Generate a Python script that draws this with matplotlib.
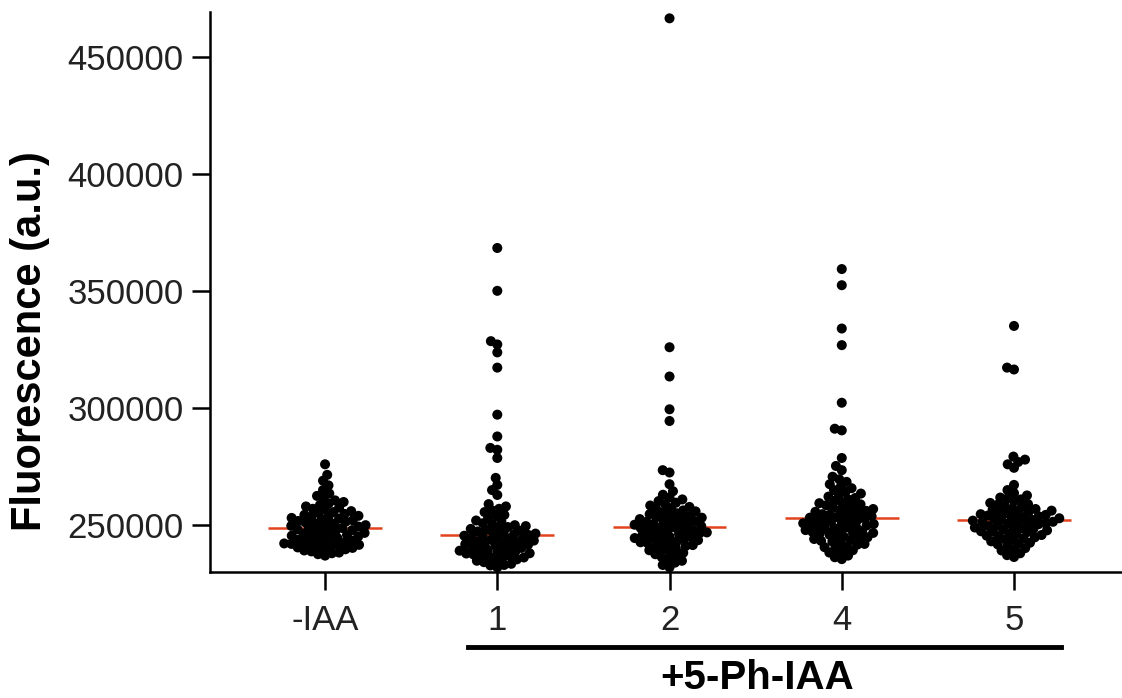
import numpy as np
import matplotlib
matplotlib.use("Agg")
import matplotlib.pyplot as plt

plt.rcParams['font.family'] = ['Liberation Sans', 'DejaVu Sans']

groups = ['-IAA', '1', '2', '4', '5']

# fluorescence values, in thousands (a.u.)
minus_iaa = [237.0, 237.6, 238.0, 238.3, 238.8, 239.2, 239.7, 240.1, 240.3, 240.5, 240.9, 241.2,
             241.4, 241.6, 241.9, 242.0, 242.2, 242.5, 242.8, 243.1, 243.4, 243.7, 244.0, 244.3,
             244.6, 244.9, 245.2, 245.5, 245.8, 246.1, 246.4, 246.7, 247.0, 247.3, 247.6, 247.9,
             248.2, 248.5, 248.8, 249.1, 249.4, 249.7, 250.0, 250.3, 250.6, 250.9, 251.2, 251.5,
             251.8, 252.1, 252.4, 252.8, 253.1, 253.4, 253.7, 254.0, 254.4, 254.8, 255.2, 255.6,
             256.0, 256.5, 257.0, 257.5, 258.0, 258.6, 259.2, 259.9, 260.6, 261.5, 262.5, 263.5,
             265.0, 267.0, 269.0, 271.5, 276.0]
ph_1 = [232.0, 232.8, 233.0, 233.5, 234.2, 234.8, 235.0, 235.4, 236.0, 236.2, 236.5, 237.0,
        237.2, 237.5, 237.9, 238.0, 238.3, 238.7, 239.1, 239.3, 239.5, 239.9, 240.3, 240.7,
        241.0, 241.3, 241.6, 241.9, 242.2, 242.5, 242.8, 243.1, 243.4, 243.7, 244.0, 244.3,
        244.6, 244.9, 245.2, 245.5, 245.8, 246.1, 246.4, 246.7, 247.0, 247.3, 247.6, 248.0,
        248.4, 248.8, 249.2, 249.6, 250.0, 250.4, 250.8, 251.6, 252.0, 252.9, 253.9, 254.4,
        255.6, 256.3, 257.0, 258.0, 259.0, 262.9, 265.0, 267.2, 270.2, 278.7, 282.2, 283.0,
        287.9, 297.2, 317.3, 323.8, 327.2, 328.6, 350.1, 368.4]
ph_2 = [232.0, 233.0, 234.0, 234.8, 235.6, 236.3, 237.0, 237.6, 238.2, 238.8, 239.3, 239.8,
        240.3, 240.7, 241.1, 241.5, 241.9, 242.3, 242.7, 243.0, 243.3, 243.6, 243.9, 244.2,
        244.5, 244.8, 245.1, 245.4, 245.7, 246.0, 246.3, 246.6, 246.9, 247.2, 247.5, 247.8,
        248.1, 248.4, 248.7, 249.0, 249.3, 249.6, 249.9, 250.2, 250.5, 250.8, 251.1, 251.4,
        251.7, 252.0, 252.3, 252.6, 252.9, 253.2, 253.5, 253.9, 254.3, 254.7, 255.1, 255.5,
        255.9, 256.3, 256.8, 257.3, 257.8, 258.4, 259.0, 259.6, 260.3, 261.0, 261.8, 263.0,
        264.5, 267.5, 272.5, 273.5, 294.5, 299.5, 313.5, 326.0, 466.5]
ph_4 = [235.5, 236.3, 237.0, 238.3, 238.8, 239.3, 240.2, 240.6, 241.0, 241.7, 242.0, 242.4,
        243.0, 243.3, 243.6, 244.1, 244.6, 244.8, 245.1, 245.5, 245.9, 246.3, 246.5, 246.7,
        247.1, 247.5, 247.9, 248.0, 248.3, 248.7, 249.0, 249.3, 249.6, 249.9, 250.2, 250.5,
        250.8, 251.1, 251.4, 251.7, 252.0, 252.3, 252.6, 252.9, 253.2, 253.5, 253.8, 254.1,
        254.4, 254.7, 255.0, 255.3, 255.7, 256.1, 256.5, 256.9, 257.3, 257.7, 258.1, 258.5,
        258.9, 259.4, 259.9, 260.4, 261.0, 261.6, 262.2, 262.8, 263.5, 264.2, 265.0, 265.8,
        266.6, 267.5, 268.5, 269.6, 270.7, 273.5, 275.3, 278.7, 290.5, 291.2, 302.3, 326.9,
        334.0, 352.5, 359.4]
ph_5 = [236.4, 237.2, 238.0, 239.2, 239.7, 240.2, 241.0, 241.8, 242.1, 242.5, 243.1, 243.7,
        244.0, 244.3, 244.8, 245.3, 245.5, 245.8, 246.2, 246.6, 247.0, 247.2, 247.4, 247.8,
        248.1, 248.4, 248.7, 249.0, 249.3, 249.6, 249.9, 250.2, 250.45, 250.7, 250.95, 251.2,
        251.45, 251.7, 251.95, 252.2, 252.45, 252.7, 252.95, 253.2, 253.5, 253.8, 254.1, 254.4,
        254.7, 255.0, 255.2, 255.4, 255.8, 256.2, 256.6, 256.9, 257.1, 257.6, 258.2, 258.8,
        259.0, 259.5, 260.2, 261.0, 261.4, 261.8, 262.7, 263.7, 265.0, 267.2, 274.5, 276.0,
        277.0, 278.0, 279.3, 316.5, 317.3, 335.1]

all_values = [minus_iaa, ph_1, ph_2, ph_4, ph_5]


def swarm(y_px, d):
    # simple beeswarm: place each point as close to the centre as possible
    order = np.argsort(y_px)
    xs = np.zeros(len(y_px))
    placed = []
    for i in order:
        y = y_px[i]
        near = [(px, py) for px, py in placed if abs(py - y) < d]
        cands = [0.0]
        for px, py in near:
            dx = np.sqrt(d ** 2 - (py - y) ** 2)
            cands += [px - dx, px + dx]
        cands.sort(key=abs)
        for c in cands:
            if all((c - px) ** 2 + (y - py) ** 2 >= d ** 2 - 1e-6 for px, py in near):
                xs[i] = c
                break
        placed.append((xs[i], y))
    return xs


fig = plt.figure(figsize=(11.22, 6.98), dpi=100)
ax = fig.add_axes([0.18717, 0.18052, 0.81283, 0.80229])
ax.set_xlim(-0.668, 4.627)
ax.set_ylim(230000, 469200)

px_per_unit = 172.2
val_per_px = 427.35

for i, vals in enumerate(all_values):
    v = np.array(vals) * 1000
    off = swarm(v / val_per_px, 7.2) / px_per_unit
    ax.scatter(i + off, v, s=52, color='black', edgecolors='none', zorder=3)
    med = np.median(v)
    ax.hlines(med, i - 0.33, i + 0.33, color='#e2431e', lw=1.8, zorder=2)

ax.spines['top'].set_visible(False)
ax.spines['right'].set_visible(False)
ax.spines['left'].set_linewidth(1.8)
ax.spines['bottom'].set_linewidth(1.8)

ax.set_yticks([250000, 300000, 350000, 400000, 450000])
ax.set_xticks(range(len(groups)))
ax.set_xticklabels(groups)
ax.tick_params(axis='both', length=13, width=1.8, labelsize=25, labelcolor='#222222')
ax.tick_params(axis='y', pad=6)
ax.tick_params(axis='x', pad=10)

# bracket for the treated samples
ax.plot([0.83, 4.27], [-0.134, -0.134], color='black', lw=3.5,
        transform=ax.get_xaxis_transform(), clip_on=False)
ax.text(2.51, -0.2232, '+5-Ph-IAA', fontsize=29, fontweight='bold', ha='center',
        va='bottom', transform=ax.get_xaxis_transform())

fig.text(30 / 1122, 1 - 341 / 698, 'Fluorescence (a.u.)', rotation=90, fontsize=30,
         fontweight='bold', ha='center', va='center')

fig.savefig('out.png', dpi=100)
